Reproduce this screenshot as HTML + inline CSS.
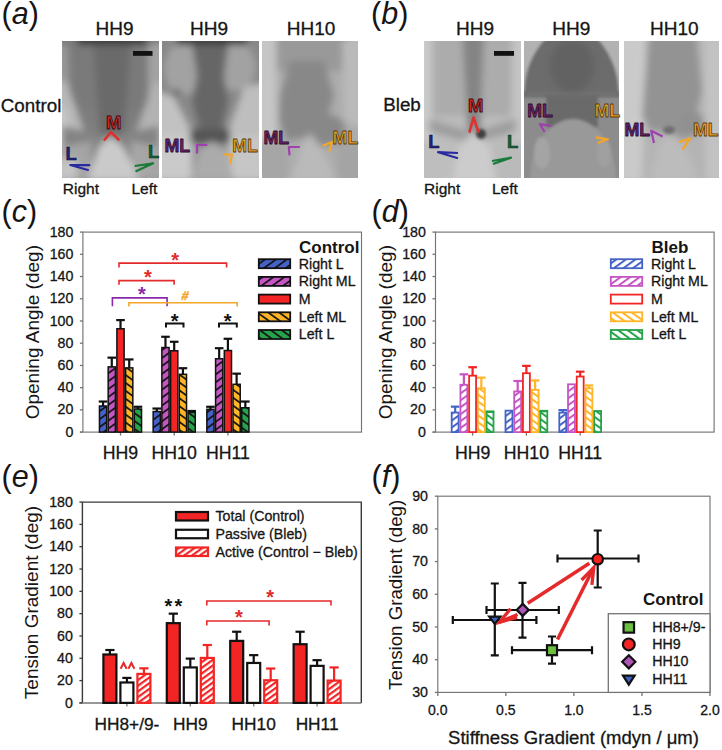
<!DOCTYPE html>
<html><head><meta charset="utf-8"><style>
html,body{margin:0;padding:0;background:#fff;overflow:hidden;}
svg{display:block;}
text{font-family:"Liberation Sans", sans-serif;}
</style></head><body>
<svg width="722" height="750" viewBox="0 0 722 750">
<defs><pattern id="pBlue" patternUnits="userSpaceOnUse" width="6.4" height="6.4" patternTransform="rotate(54)"><rect width="6.4" height="6.4" fill="#4563c6"/><rect x="0" y="0" width="1.7" height="6.4" fill="#111"/></pattern><pattern id="pMag" patternUnits="userSpaceOnUse" width="6.4" height="6.4" patternTransform="rotate(54)"><rect width="6.4" height="6.4" fill="#c655c4"/><rect x="0" y="0" width="1.7" height="6.4" fill="#111"/></pattern><pattern id="pOrg" patternUnits="userSpaceOnUse" width="6.4" height="6.4" patternTransform="rotate(-54)"><rect width="6.4" height="6.4" fill="#ffb526"/><rect x="0" y="0" width="1.7" height="6.4" fill="#111"/></pattern><pattern id="pGrn" patternUnits="userSpaceOnUse" width="6.4" height="6.4" patternTransform="rotate(-54)"><rect width="6.4" height="6.4" fill="#25a24a"/><rect x="0" y="0" width="1.7" height="6.4" fill="#111"/></pattern><pattern id="dBlue" patternUnits="userSpaceOnUse" width="5.6" height="5.6" patternTransform="rotate(54)"><rect width="5.6" height="5.6" fill="#fff"/><rect x="0" y="0" width="2.0" height="5.6" fill="#4563c6"/></pattern><pattern id="dMag" patternUnits="userSpaceOnUse" width="5.6" height="5.6" patternTransform="rotate(54)"><rect width="5.6" height="5.6" fill="#fff"/><rect x="0" y="0" width="2.0" height="5.6" fill="#c655c4"/></pattern><pattern id="dOrg" patternUnits="userSpaceOnUse" width="5.6" height="5.6" patternTransform="rotate(-54)"><rect width="5.6" height="5.6" fill="#fff"/><rect x="0" y="0" width="2.0" height="5.6" fill="#ffb526"/></pattern><pattern id="dGrn" patternUnits="userSpaceOnUse" width="5.6" height="5.6" patternTransform="rotate(-54)"><rect width="5.6" height="5.6" fill="#fff"/><rect x="0" y="0" width="2.0" height="5.6" fill="#25a24a"/></pattern><pattern id="eRed" patternUnits="userSpaceOnUse" width="4.6" height="4.6" patternTransform="rotate(54)"><rect width="4.6" height="4.6" fill="#fff"/><rect x="0" y="0" width="2.2" height="4.6" fill="#f22424"/></pattern></defs>
<rect width="722" height="750" fill="#fff"/>
<defs>
<filter id="bl4" x="-30%" y="-30%" width="160%" height="160%"><feGaussianBlur stdDeviation="3.5"/></filter>
<filter id="bl2" x="-30%" y="-30%" width="160%" height="160%"><feGaussianBlur stdDeviation="1.8"/></filter>
<clipPath id="c97"><rect x="0" y="0" width="97" height="137"/></clipPath>
<clipPath id="c96"><rect x="0" y="0" width="96" height="137"/></clipPath>
<clipPath id="c95"><rect x="0" y="0" width="95" height="137"/></clipPath>
</defs>
<!-- a1 -->
<g transform="translate(62,41)" clip-path="url(#c97)">
<rect width="97" height="137" fill="#7e7e7e"/>
<g filter="url(#bl4)">
<rect x="-10" y="-10" width="117" height="80" fill="#7a7a7a"/>
<path d="M-10,0 L6,5 L8,60 L-10,70Z" fill="#989898"/>
<path d="M107,0 L86,5 L86,60 L107,70Z" fill="#a2a2a2"/>
<path d="M30,-10 L70,-10 L62,95 L48,98 L38,95Z" fill="#6a6a6a"/>
<rect x="15" y="-10" width="70" height="14" fill="#3a3a3a"/>
<path d="M-10,40 L4,40 L26,100 L15,137 L-10,137Z" fill="#b8b8b8"/>
<path d="M107,40 L92,42 L70,100 L80,137 L107,137Z" fill="#b2b2b2"/>
<path d="M-10,60 L6,70 L6,137 L-10,137Z" fill="#c6c6c6"/>
<path d="M0,85 L48,95 L97,85 L97,108 L48,100 L0,108Z" fill="#848484"/>
<path d="M-10,108 L30,100 L30,140 L-10,140Z" fill="#a4a4a4"/>
<path d="M107,108 L68,100 L70,140 L107,140Z" fill="#a6a6a6"/>
<path d="M26,140 L36,106 L48,96 L62,106 L78,140Z" fill="#cacaca"/>
<rect x="-5" y="118" width="20" height="22" fill="#c4c4c4"/>
</g>
</g>
<!-- a2 -->
<g transform="translate(162,41)" clip-path="url(#c97)">
<rect width="97" height="137" fill="#888"/>
<g filter="url(#bl4)">
<ellipse cx="22" cy="28" rx="20" ry="26" fill="#a2a2a2"/>
<ellipse cx="74" cy="26" rx="20" ry="24" fill="#a2a2a2"/>
<path d="M28,-10 L68,-10 L62,35 L66,60 L58,95 L40,95 L30,60 L35,35Z" fill="#666"/>
<rect x="15" y="-10" width="70" height="14" fill="#3a3a3a"/>
<path d="M-10,48 L12,56 L32,95 L30,140 L-10,140Z" fill="#c2c2c2"/>
<path d="M107,40 L82,46 L64,95 L70,140 L107,140Z" fill="#bebebe"/>
<rect x="-10" y="95" width="38" height="45" fill="#cacaca"/>
<rect x="70" y="95" width="37" height="45" fill="#c6c6c6"/>
<rect x="28" y="88" width="40" height="14" fill="#555"/>
<path d="M30,140 L36,110 L50,100 L65,110 L72,140Z" fill="#ababab"/>
<circle cx="15" cy="52" r="4" fill="#666"/>
</g>
</g>
<!-- a3 -->
<g transform="translate(262,41)" clip-path="url(#c96)">
<rect width="96" height="137" fill="#acacac"/>
<g filter="url(#bl4)">
<rect x="8" y="-10" width="80" height="40" fill="#999"/>
<path d="M-10,-10 L14,-5 L15,95 L-10,100Z" fill="#c6c6c6"/>
<path d="M106,-10 L80,0 L82,80 L106,90Z" fill="#bababa"/>
<path d="M28,20 L62,20 L72,55 L66,72 L82,80 L82,100 L60,106 L48,95 L25,100 L17,80 L18,55Z" fill="#888888"/>
<path d="M28,140 L40,105 L48,92 L60,108 L75,140Z" fill="#bababa"/>
<rect x="-10" y="102" width="35" height="40" fill="#a6a6a6"/>
<rect x="75" y="102" width="31" height="40" fill="#a4a4a4"/>
</g>
</g>
<!-- b1 -->
<g transform="translate(424,41)" clip-path="url(#c97)">
<rect width="97" height="137" fill="#bcbcbc"/>
<g filter="url(#bl4)">
<rect x="8" y="-10" width="80" height="85" fill="#acacac"/>
<path d="M-10,-10 L8,-10 L8,140 L-10,140Z" fill="#cacaca"/>
<path d="M107,-10 L88,-10 L88,140 L107,140Z" fill="#c4c4c4"/>
<path d="M38,-10 L60,-10 L56,95 L44,95Z" fill="#848484"/>
<path d="M5,78 L48,92 L92,78 L92,90 L48,102 L5,90Z" fill="#9c9c9c"/>
<path d="M28,140 L35,105 L50,90 L65,105 L72,140Z" fill="#cccccc"/>
<rect x="-10" y="100" width="38" height="40" fill="#bebebe"/>
<rect x="72" y="100" width="35" height="40" fill="#bababa"/>
</g>
<g filter="url(#bl2)"><ellipse cx="57" cy="93" rx="5" ry="5" fill="#404040"/></g>
</g>
<!-- b2 -->
<g transform="translate(524,41)" clip-path="url(#c95)">
<rect width="95" height="137" fill="#888"/>
<g filter="url(#bl2)">
<rect x="-5" y="-5" width="105" height="60" fill="#b2b2b2"/>
<path d="M0,56 C0,30 8,12 22,-3 L73,-3 C86,12 95,30 95,56Z" fill="#6c6c6c"/>
<rect x="-5" y="50" width="105" height="8" fill="#707070"/>
</g>
<g filter="url(#bl4)"><ellipse cx="48" cy="25" rx="22" ry="26" fill="#626262"/></g>
<g filter="url(#bl2)">
<rect x="-5" y="57" width="105" height="90" fill="#8c8c8c"/>
<rect x="22" y="54" width="52" height="32" fill="#6a6a6a"/>
<ellipse cx="49" cy="140" rx="43" ry="62" fill="#999"/>
<ellipse cx="18" cy="112" rx="8" ry="16" fill="#a4a4a4"/>
<ellipse cx="80" cy="112" rx="7" ry="14" fill="#a0a0a0"/>
</g>
</g>
<!-- b3 -->
<g transform="translate(624,41)" clip-path="url(#c95)">
<rect width="95" height="137" fill="#b4b4b4"/>
<g filter="url(#bl4)">
<path d="M-10,-10 L22,-10 L18,140 L-10,140Z" fill="#cacaca"/>
<path d="M105,-10 L80,-10 L82,140 L105,140Z" fill="#c2c2c2"/>
<path d="M25,-5 L72,-5 L78,50 L72,72 L80,90 L60,98 L45,92 L25,88 L18,75 L20,50Z" fill="#939393"/>
<path d="M25,140 L35,105 L45,92 L60,105 L75,140Z" fill="#bcbcbc"/>
<ellipse cx="68" cy="82" rx="12" ry="12" fill="#909090"/>
</g>
<g filter="url(#bl2)"><ellipse cx="45" cy="89" rx="6" ry="4" fill="#707070"/></g>
</g>

<g font-family="Liberation Sans, sans-serif" font-weight="bold" stroke-linejoin="round">
<!-- a1 -->
<text x="106" y="129.1" font-size="18.5" fill="#e02a2a" stroke="#3a0a0a" stroke-width="0.9">M</text>
<polyline points="103.9,140.5 111,132.2 119.4,140.2" fill="none" stroke="#e03030" stroke-width="2.6"/>
<text x="65.6" y="159.7" font-size="18.4" fill="#24247a" stroke="#101040" stroke-width="0.6">L</text>
<polyline points="90.2,165.2 70.3,165 88.8,170.2" fill="none" stroke="#2a2aa0" stroke-width="2.2"/>
<text x="148.1" y="158.3" font-size="18.4" fill="#16603a" stroke="#0a3018" stroke-width="0.6">L</text>
<polyline points="134.7,166 153.2,163.3 135.5,171.6" fill="none" stroke="#1a7a3a" stroke-width="2.2"/>
<!-- a2 -->
<text x="164.4" y="151.6" font-size="17.8" fill="#6a246a" stroke="#2a0a2a" stroke-width="0.8">ML</text>
<polyline points="207.3,145 197,145 197,153.5" fill="none" stroke="#a040b0" stroke-width="2.2"/>
<text x="232.2" y="151.6" font-size="17.8" fill="#f0a428" stroke="#5a3a08" stroke-width="0.8">ML</text>
<polyline points="223.4,154.5 232,154.5 230,164" fill="none" stroke="#f4a628" stroke-width="2.2"/>
<!-- a3 -->
<text x="263.4" y="143.5" font-size="17.8" fill="#6a246a" stroke="#2a0a2a" stroke-width="0.8">ML</text>
<polyline points="299.8,147 288.8,147 289.5,155.4" fill="none" stroke="#a040b0" stroke-width="2.2"/>
<text x="332.6" y="143.5" font-size="17.8" fill="#f0a428" stroke="#5a3a08" stroke-width="0.8">ML</text>
<polyline points="322.5,146 332,142 329.1,151.6" fill="none" stroke="#f4a628" stroke-width="2.2"/>
<!-- b1 -->
<rect x="133" y="51" width="19.5" height="4.8" fill="#111"/>
<rect x="494" y="51" width="20" height="4.8" fill="#111"/>
<text x="468" y="111.9" font-size="18.5" fill="#e02a2a" stroke="#3a0a0a" stroke-width="0.9">M</text>
<polyline points="469.3,132.7 473.5,117.5 478.8,132.7" fill="none" stroke="#e03030" stroke-width="2.6"/>
<text x="428.3" y="148.2" font-size="18.4" fill="#24247a" stroke="#101040" stroke-width="0.6">L</text>
<polyline points="458,153 438.1,152.2 458,158.3" fill="none" stroke="#2a2aa0" stroke-width="2.2"/>
<text x="506.9" y="148.2" font-size="18.4" fill="#16603a" stroke="#0a3018" stroke-width="0.6">L</text>
<polyline points="492,161 511,157.7 493,164" fill="none" stroke="#1a7a3a" stroke-width="2.2"/>
<!-- b2 -->
<text x="527.2" y="117.2" font-size="17.8" fill="#6a246a" stroke="#2a0a2a" stroke-width="0.8">ML</text>
<polyline points="551.2,126 539.9,124.2 544.6,131.8" fill="none" stroke="#a040b0" stroke-width="2.2"/>
<text x="594.5" y="117.2" font-size="17.8" fill="#f0a428" stroke="#5a3a08" stroke-width="0.8">ML</text>
<polyline points="595.8,137.4 608,139.3 597.7,143" fill="none" stroke="#f4a628" stroke-width="2.2"/>
<!-- b3 -->
<text x="624.4" y="136.1" font-size="17.8" fill="#6a246a" stroke="#2a0a2a" stroke-width="0.8">ML</text>
<polyline points="662.6,136.5 651.2,130.8 654,143" fill="none" stroke="#a040b0" stroke-width="2.2"/>
<text x="692.9" y="136.1" font-size="17.8" fill="#f0a428" stroke="#5a3a08" stroke-width="0.8">ML</text>
<polyline points="678.7,142.2 690,138.4 682.5,149.7" fill="none" stroke="#f4a628" stroke-width="2.2"/>
</g>

<text x="1.5" y="24" font-size="30.5" fill="#151515">(<tspan font-style="italic">a</tspan>)</text>
<text x="371" y="24" font-size="30.5" fill="#151515">(<tspan font-style="italic">b</tspan>)</text>
<text x="1.5" y="221.5" font-size="30.5" fill="#151515">(<tspan font-style="italic">c</tspan>)</text>
<text x="371.5" y="221.5" font-size="30.5" fill="#151515">(<tspan font-style="italic">d</tspan>)</text>
<text x="1.5" y="487" font-size="30.5" fill="#151515">(<tspan font-style="italic">e</tspan>)</text>
<text x="371.5" y="487" font-size="30.5" fill="#151515">(<tspan font-style="italic">f</tspan>)</text>
<rect x="82.90" y="232.10" width="278.60" height="200.00" fill="none" stroke="#747474" stroke-width="1.15" />
<line x1="79.90" y1="432.10" x2="82.90" y2="432.10" stroke="#747474" stroke-width="1.15" />
<line x1="79.90" y1="432.10" x2="82.90" y2="432.10" stroke="#747474" stroke-width="1.3" />
<text x="73.30" y="436.70" font-size="14.2" text-anchor="end" font-weight="normal" font-style="normal" fill="#151515" stroke="#151515" stroke-width="0.3" >0</text>
<line x1="79.90" y1="409.88" x2="82.90" y2="409.88" stroke="#747474" stroke-width="1.3" />
<text x="73.30" y="414.48" font-size="14.2" text-anchor="end" font-weight="normal" font-style="normal" fill="#151515" stroke="#151515" stroke-width="0.3" >20</text>
<line x1="79.90" y1="387.66" x2="82.90" y2="387.66" stroke="#747474" stroke-width="1.3" />
<text x="73.30" y="392.26" font-size="14.2" text-anchor="end" font-weight="normal" font-style="normal" fill="#151515" stroke="#151515" stroke-width="0.3" >40</text>
<line x1="79.90" y1="365.43" x2="82.90" y2="365.43" stroke="#747474" stroke-width="1.3" />
<text x="73.30" y="370.03" font-size="14.2" text-anchor="end" font-weight="normal" font-style="normal" fill="#151515" stroke="#151515" stroke-width="0.3" >60</text>
<line x1="79.90" y1="343.21" x2="82.90" y2="343.21" stroke="#747474" stroke-width="1.3" />
<text x="73.30" y="347.81" font-size="14.2" text-anchor="end" font-weight="normal" font-style="normal" fill="#151515" stroke="#151515" stroke-width="0.3" >80</text>
<line x1="79.90" y1="320.99" x2="82.90" y2="320.99" stroke="#747474" stroke-width="1.3" />
<text x="73.30" y="325.59" font-size="14.2" text-anchor="end" font-weight="normal" font-style="normal" fill="#151515" stroke="#151515" stroke-width="0.3" >100</text>
<line x1="79.90" y1="298.77" x2="82.90" y2="298.77" stroke="#747474" stroke-width="1.3" />
<text x="73.30" y="303.37" font-size="14.2" text-anchor="end" font-weight="normal" font-style="normal" fill="#151515" stroke="#151515" stroke-width="0.3" >120</text>
<line x1="79.90" y1="276.54" x2="82.90" y2="276.54" stroke="#747474" stroke-width="1.3" />
<text x="73.30" y="281.14" font-size="14.2" text-anchor="end" font-weight="normal" font-style="normal" fill="#151515" stroke="#151515" stroke-width="0.3" >140</text>
<line x1="79.90" y1="254.32" x2="82.90" y2="254.32" stroke="#747474" stroke-width="1.3" />
<text x="73.30" y="258.92" font-size="14.2" text-anchor="end" font-weight="normal" font-style="normal" fill="#151515" stroke="#151515" stroke-width="0.3" >160</text>
<line x1="79.90" y1="232.10" x2="82.90" y2="232.10" stroke="#747474" stroke-width="1.3" />
<text x="73.30" y="236.70" font-size="14.2" text-anchor="end" font-weight="normal" font-style="normal" fill="#151515" stroke="#151515" stroke-width="0.3" >180</text>
<line x1="120.50" y1="432.10" x2="120.50" y2="435.60" stroke="#747474" stroke-width="1.3" />
<text x="120.50" y="459.00" font-size="17.7" text-anchor="middle" font-weight="normal" font-style="normal" fill="#151515" stroke="#151515" stroke-width="0.3" >HH9</text>
<line x1="174.20" y1="432.10" x2="174.20" y2="435.60" stroke="#747474" stroke-width="1.3" />
<text x="174.20" y="459.00" font-size="17.7" text-anchor="middle" font-weight="normal" font-style="normal" fill="#151515" stroke="#151515" stroke-width="0.3" >HH10</text>
<line x1="227.90" y1="432.10" x2="227.90" y2="435.60" stroke="#747474" stroke-width="1.3" />
<text x="227.90" y="459.00" font-size="17.7" text-anchor="middle" font-weight="normal" font-style="normal" fill="#151515" stroke="#151515" stroke-width="0.3" >HH11</text>
<text transform="translate(38.9,332.2) rotate(-90)" font-size="19" text-anchor="middle" fill="#151515">Opening Angle (deg)</text>
<line x1="103.06" y1="405.99" x2="103.06" y2="401.54" stroke="#111" stroke-width="2.2" />
<line x1="98.76" y1="401.54" x2="107.36" y2="401.54" stroke="#111" stroke-width="2.2" />
<rect x="99.45" y="405.99" width="7.22" height="26.11" fill="url(#pBlue)" stroke="#111" stroke-width="1.5" />
<line x1="111.78" y1="366.88" x2="111.78" y2="357.66" stroke="#111" stroke-width="2.2" />
<line x1="107.48" y1="357.66" x2="116.08" y2="357.66" stroke="#111" stroke-width="2.2" />
<rect x="108.17" y="366.88" width="7.22" height="65.22" fill="url(#pMag)" stroke="#111" stroke-width="1.5" />
<line x1="120.50" y1="328.77" x2="120.50" y2="320.10" stroke="#111" stroke-width="2.2" />
<line x1="116.20" y1="320.10" x2="124.80" y2="320.10" stroke="#111" stroke-width="2.2" />
<rect x="116.89" y="328.77" width="7.22" height="103.33" fill="#f22424" stroke="#111" stroke-width="1.5" />
<line x1="129.22" y1="367.88" x2="129.22" y2="359.43" stroke="#111" stroke-width="2.2" />
<line x1="124.92" y1="359.43" x2="133.52" y2="359.43" stroke="#111" stroke-width="2.2" />
<rect x="125.61" y="367.88" width="7.22" height="64.22" fill="url(#pOrg)" stroke="#111" stroke-width="1.5" />
<line x1="137.94" y1="408.99" x2="137.94" y2="406.77" stroke="#111" stroke-width="2.2" />
<line x1="133.64" y1="406.77" x2="142.24" y2="406.77" stroke="#111" stroke-width="2.2" />
<rect x="134.33" y="408.99" width="7.22" height="23.11" fill="url(#pGrn)" stroke="#111" stroke-width="1.5" />
<line x1="156.76" y1="411.54" x2="156.76" y2="408.54" stroke="#111" stroke-width="2.2" />
<line x1="152.46" y1="408.54" x2="161.06" y2="408.54" stroke="#111" stroke-width="2.2" />
<rect x="153.15" y="411.54" width="7.22" height="20.56" fill="url(#pBlue)" stroke="#111" stroke-width="1.5" />
<line x1="165.48" y1="347.54" x2="165.48" y2="336.77" stroke="#111" stroke-width="2.2" />
<line x1="161.18" y1="336.77" x2="169.78" y2="336.77" stroke="#111" stroke-width="2.2" />
<rect x="161.87" y="347.54" width="7.22" height="84.56" fill="url(#pMag)" stroke="#111" stroke-width="1.5" />
<line x1="174.20" y1="350.77" x2="174.20" y2="341.77" stroke="#111" stroke-width="2.2" />
<line x1="169.90" y1="341.77" x2="178.50" y2="341.77" stroke="#111" stroke-width="2.2" />
<rect x="170.59" y="350.77" width="7.22" height="81.33" fill="#f22424" stroke="#111" stroke-width="1.5" />
<line x1="182.92" y1="374.32" x2="182.92" y2="368.21" stroke="#111" stroke-width="2.2" />
<line x1="178.62" y1="368.21" x2="187.22" y2="368.21" stroke="#111" stroke-width="2.2" />
<rect x="179.31" y="374.32" width="7.22" height="57.78" fill="url(#pOrg)" stroke="#111" stroke-width="1.5" />
<line x1="191.64" y1="412.32" x2="191.64" y2="410.99" stroke="#111" stroke-width="2.2" />
<line x1="187.34" y1="410.99" x2="195.94" y2="410.99" stroke="#111" stroke-width="2.2" />
<rect x="188.03" y="412.32" width="7.22" height="19.78" fill="url(#pGrn)" stroke="#111" stroke-width="1.5" />
<line x1="210.46" y1="409.32" x2="210.46" y2="406.77" stroke="#111" stroke-width="2.2" />
<line x1="206.16" y1="406.77" x2="214.76" y2="406.77" stroke="#111" stroke-width="2.2" />
<rect x="206.85" y="409.32" width="7.22" height="22.78" fill="url(#pBlue)" stroke="#111" stroke-width="1.5" />
<line x1="219.18" y1="358.77" x2="219.18" y2="348.21" stroke="#111" stroke-width="2.2" />
<line x1="214.88" y1="348.21" x2="223.48" y2="348.21" stroke="#111" stroke-width="2.2" />
<rect x="215.57" y="358.77" width="7.22" height="73.33" fill="url(#pMag)" stroke="#111" stroke-width="1.5" />
<line x1="227.90" y1="350.54" x2="227.90" y2="338.77" stroke="#111" stroke-width="2.2" />
<line x1="223.60" y1="338.77" x2="232.20" y2="338.77" stroke="#111" stroke-width="2.2" />
<rect x="224.29" y="350.54" width="7.22" height="81.56" fill="#f22424" stroke="#111" stroke-width="1.5" />
<line x1="236.62" y1="384.32" x2="236.62" y2="373.66" stroke="#111" stroke-width="2.2" />
<line x1="232.32" y1="373.66" x2="240.92" y2="373.66" stroke="#111" stroke-width="2.2" />
<rect x="233.01" y="384.32" width="7.22" height="47.78" fill="url(#pOrg)" stroke="#111" stroke-width="1.5" />
<line x1="245.34" y1="407.77" x2="245.34" y2="401.54" stroke="#111" stroke-width="2.2" />
<line x1="241.04" y1="401.54" x2="249.64" y2="401.54" stroke="#111" stroke-width="2.2" />
<rect x="241.73" y="407.77" width="7.22" height="24.33" fill="url(#pGrn)" stroke="#111" stroke-width="1.5" />
<rect x="435.50" y="232.10" width="278.60" height="200.00" fill="none" stroke="#747474" stroke-width="1.15" />
<line x1="432.50" y1="432.10" x2="435.50" y2="432.10" stroke="#747474" stroke-width="1.15" />
<line x1="432.50" y1="432.10" x2="435.50" y2="432.10" stroke="#747474" stroke-width="1.3" />
<text x="425.90" y="436.70" font-size="14.2" text-anchor="end" font-weight="normal" font-style="normal" fill="#151515" stroke="#151515" stroke-width="0.3" >0</text>
<line x1="432.50" y1="409.88" x2="435.50" y2="409.88" stroke="#747474" stroke-width="1.3" />
<text x="425.90" y="414.48" font-size="14.2" text-anchor="end" font-weight="normal" font-style="normal" fill="#151515" stroke="#151515" stroke-width="0.3" >20</text>
<line x1="432.50" y1="387.66" x2="435.50" y2="387.66" stroke="#747474" stroke-width="1.3" />
<text x="425.90" y="392.26" font-size="14.2" text-anchor="end" font-weight="normal" font-style="normal" fill="#151515" stroke="#151515" stroke-width="0.3" >40</text>
<line x1="432.50" y1="365.43" x2="435.50" y2="365.43" stroke="#747474" stroke-width="1.3" />
<text x="425.90" y="370.03" font-size="14.2" text-anchor="end" font-weight="normal" font-style="normal" fill="#151515" stroke="#151515" stroke-width="0.3" >60</text>
<line x1="432.50" y1="343.21" x2="435.50" y2="343.21" stroke="#747474" stroke-width="1.3" />
<text x="425.90" y="347.81" font-size="14.2" text-anchor="end" font-weight="normal" font-style="normal" fill="#151515" stroke="#151515" stroke-width="0.3" >80</text>
<line x1="432.50" y1="320.99" x2="435.50" y2="320.99" stroke="#747474" stroke-width="1.3" />
<text x="425.90" y="325.59" font-size="14.2" text-anchor="end" font-weight="normal" font-style="normal" fill="#151515" stroke="#151515" stroke-width="0.3" >100</text>
<line x1="432.50" y1="298.77" x2="435.50" y2="298.77" stroke="#747474" stroke-width="1.3" />
<text x="425.90" y="303.37" font-size="14.2" text-anchor="end" font-weight="normal" font-style="normal" fill="#151515" stroke="#151515" stroke-width="0.3" >120</text>
<line x1="432.50" y1="276.54" x2="435.50" y2="276.54" stroke="#747474" stroke-width="1.3" />
<text x="425.90" y="281.14" font-size="14.2" text-anchor="end" font-weight="normal" font-style="normal" fill="#151515" stroke="#151515" stroke-width="0.3" >140</text>
<line x1="432.50" y1="254.32" x2="435.50" y2="254.32" stroke="#747474" stroke-width="1.3" />
<text x="425.90" y="258.92" font-size="14.2" text-anchor="end" font-weight="normal" font-style="normal" fill="#151515" stroke="#151515" stroke-width="0.3" >160</text>
<line x1="432.50" y1="232.10" x2="435.50" y2="232.10" stroke="#747474" stroke-width="1.3" />
<text x="425.90" y="236.70" font-size="14.2" text-anchor="end" font-weight="normal" font-style="normal" fill="#151515" stroke="#151515" stroke-width="0.3" >180</text>
<line x1="472.60" y1="432.10" x2="472.60" y2="435.60" stroke="#747474" stroke-width="1.3" />
<text x="472.60" y="459.00" font-size="17.7" text-anchor="middle" font-weight="normal" font-style="normal" fill="#151515" stroke="#151515" stroke-width="0.3" >HH9</text>
<line x1="526.40" y1="432.10" x2="526.40" y2="435.60" stroke="#747474" stroke-width="1.3" />
<text x="526.40" y="459.00" font-size="17.7" text-anchor="middle" font-weight="normal" font-style="normal" fill="#151515" stroke="#151515" stroke-width="0.3" >HH10</text>
<line x1="580.20" y1="432.10" x2="580.20" y2="435.60" stroke="#747474" stroke-width="1.3" />
<text x="580.20" y="459.00" font-size="17.7" text-anchor="middle" font-weight="normal" font-style="normal" fill="#151515" stroke="#151515" stroke-width="0.3" >HH11</text>
<text transform="translate(391.5,332.2) rotate(-90)" font-size="19" text-anchor="middle" fill="#151515">Opening Angle (deg)</text>
<line x1="455.16" y1="412.54" x2="455.16" y2="406.66" stroke="#4563c6" stroke-width="2.2" />
<line x1="450.86" y1="406.66" x2="459.46" y2="406.66" stroke="#4563c6" stroke-width="2.2" />
<rect x="451.70" y="412.54" width="6.92" height="19.56" fill="url(#dBlue)" stroke="#4563c6" stroke-width="1.8" />
<line x1="463.88" y1="384.77" x2="463.88" y2="374.32" stroke="#c655c4" stroke-width="2.2" />
<line x1="459.58" y1="374.32" x2="468.18" y2="374.32" stroke="#c655c4" stroke-width="2.2" />
<rect x="460.42" y="384.77" width="6.92" height="47.33" fill="url(#dMag)" stroke="#c655c4" stroke-width="1.8" />
<line x1="472.60" y1="375.66" x2="472.60" y2="367.21" stroke="#f22424" stroke-width="2.2" />
<line x1="468.30" y1="367.21" x2="476.90" y2="367.21" stroke="#f22424" stroke-width="2.2" />
<rect x="469.14" y="375.66" width="6.92" height="56.44" fill="#fff" stroke="#f22424" stroke-width="1.8" />
<line x1="481.32" y1="388.32" x2="481.32" y2="377.66" stroke="#ffb526" stroke-width="2.2" />
<line x1="477.02" y1="377.66" x2="485.62" y2="377.66" stroke="#ffb526" stroke-width="2.2" />
<rect x="477.86" y="388.32" width="6.92" height="43.78" fill="url(#dOrg)" stroke="#ffb526" stroke-width="1.8" />
<line x1="490.04" y1="412.10" x2="490.04" y2="411.54" stroke="#25a24a" stroke-width="2.2" />
<line x1="485.74" y1="411.54" x2="494.34" y2="411.54" stroke="#25a24a" stroke-width="2.2" />
<rect x="486.58" y="412.10" width="6.92" height="20.00" fill="url(#dGrn)" stroke="#25a24a" stroke-width="1.8" />
<rect x="505.50" y="410.66" width="6.92" height="21.44" fill="url(#dBlue)" stroke="#4563c6" stroke-width="1.8" />
<line x1="517.68" y1="391.43" x2="517.68" y2="380.99" stroke="#c655c4" stroke-width="2.2" />
<line x1="513.38" y1="380.99" x2="521.98" y2="380.99" stroke="#c655c4" stroke-width="2.2" />
<rect x="514.22" y="391.43" width="6.92" height="40.67" fill="url(#dMag)" stroke="#c655c4" stroke-width="1.8" />
<line x1="526.40" y1="373.21" x2="526.40" y2="365.88" stroke="#f22424" stroke-width="2.2" />
<line x1="522.10" y1="365.88" x2="530.70" y2="365.88" stroke="#f22424" stroke-width="2.2" />
<rect x="522.94" y="373.21" width="6.92" height="58.89" fill="#fff" stroke="#f22424" stroke-width="1.8" />
<line x1="535.12" y1="389.88" x2="535.12" y2="380.43" stroke="#ffb526" stroke-width="2.2" />
<line x1="530.82" y1="380.43" x2="539.42" y2="380.43" stroke="#ffb526" stroke-width="2.2" />
<rect x="531.66" y="389.88" width="6.92" height="42.22" fill="url(#dOrg)" stroke="#ffb526" stroke-width="1.8" />
<line x1="543.84" y1="411.43" x2="543.84" y2="410.99" stroke="#25a24a" stroke-width="2.2" />
<line x1="539.54" y1="410.99" x2="548.14" y2="410.99" stroke="#25a24a" stroke-width="2.2" />
<rect x="540.38" y="411.43" width="6.92" height="20.67" fill="url(#dGrn)" stroke="#25a24a" stroke-width="1.8" />
<line x1="562.76" y1="412.66" x2="562.76" y2="410.10" stroke="#4563c6" stroke-width="2.2" />
<line x1="558.46" y1="410.10" x2="567.06" y2="410.10" stroke="#4563c6" stroke-width="2.2" />
<rect x="559.30" y="412.66" width="6.92" height="19.44" fill="url(#dBlue)" stroke="#4563c6" stroke-width="1.8" />
<rect x="568.02" y="384.32" width="6.92" height="47.78" fill="url(#dMag)" stroke="#c655c4" stroke-width="1.8" />
<line x1="580.20" y1="376.54" x2="580.20" y2="371.66" stroke="#f22424" stroke-width="2.2" />
<line x1="575.90" y1="371.66" x2="584.50" y2="371.66" stroke="#f22424" stroke-width="2.2" />
<rect x="576.74" y="376.54" width="6.92" height="55.56" fill="#fff" stroke="#f22424" stroke-width="1.8" />
<line x1="588.92" y1="388.32" x2="588.92" y2="385.43" stroke="#ffb526" stroke-width="2.2" />
<line x1="584.62" y1="385.43" x2="593.22" y2="385.43" stroke="#ffb526" stroke-width="2.2" />
<rect x="585.46" y="388.32" width="6.92" height="43.78" fill="url(#dOrg)" stroke="#ffb526" stroke-width="1.8" />
<rect x="594.18" y="410.99" width="6.92" height="21.11" fill="url(#dGrn)" stroke="#25a24a" stroke-width="1.8" />
<polyline points="119,267.5 119,263.1 226.6,263.1 226.6,267.5" fill="none" stroke="#e42a2a" stroke-width="1.6"/>
<text x="175.10" y="267.10" font-size="20" text-anchor="middle" font-weight="bold" font-style="normal" fill="#e42a2a" >*</text>
<polyline points="119,284.8 119,280.6 174.1,280.6 174.1,284.8" fill="none" stroke="#e42a2a" stroke-width="1.6"/>
<text x="147.90" y="284.10" font-size="20" text-anchor="middle" font-weight="bold" font-style="normal" fill="#e42a2a" >*</text>
<polyline points="112.4,306.3 112.4,297.9 167.1,297.9 167.1,306.3" fill="none" stroke="#8a2aa8" stroke-width="1.6"/>
<text x="141.80" y="301.30" font-size="20" text-anchor="middle" font-weight="bold" font-style="normal" fill="#8a2aa8" >*</text>
<polyline points="128.9,306.5 128.9,302.7 237.2,302.7 237.2,306.5" fill="none" stroke="#f4a628" stroke-width="1.6"/>
<text x="0" y="0" font-size="12.4" text-anchor="middle" font-weight="bold" fill="#f4a628" stroke="#f4a628" stroke-width="0.5" transform="translate(184.5,300.4) skewX(-10)">#</text>
<polyline points="166,327.6 166,323.5 183.5,323.5 183.5,327.6" fill="none" stroke="#111" stroke-width="2"/>
<text x="174.70" y="328.10" font-size="20" text-anchor="middle" font-weight="bold" font-style="normal" fill="#111" >*</text>
<polyline points="219,327.6 219,323.5 236.8,323.5 236.8,327.6" fill="none" stroke="#111" stroke-width="2"/>
<text x="227.70" y="328.10" font-size="20" text-anchor="middle" font-weight="bold" font-style="normal" fill="#111" >*</text>
<rect x="258.80" y="259.20" width="31.40" height="9.00" fill="url(#pBlue)" stroke="#111" stroke-width="1.8" />
<text x="298.80" y="268.60" font-size="14.2" text-anchor="start" font-weight="normal" font-style="normal" fill="#151515" stroke="#151515" stroke-width="0.3" >Right L</text>
<rect x="258.80" y="276.90" width="31.40" height="9.00" fill="url(#pMag)" stroke="#111" stroke-width="1.8" />
<text x="298.80" y="286.30" font-size="14.2" text-anchor="start" font-weight="normal" font-style="normal" fill="#151515" stroke="#151515" stroke-width="0.3" >Right ML</text>
<rect x="258.80" y="294.60" width="31.40" height="9.00" fill="#f22424" stroke="#111" stroke-width="1.8" />
<text x="298.80" y="304.00" font-size="14.2" text-anchor="start" font-weight="normal" font-style="normal" fill="#151515" stroke="#151515" stroke-width="0.3" >M</text>
<rect x="258.80" y="312.30" width="31.40" height="9.00" fill="url(#pOrg)" stroke="#111" stroke-width="1.8" />
<text x="298.80" y="321.70" font-size="14.2" text-anchor="start" font-weight="normal" font-style="normal" fill="#151515" stroke="#151515" stroke-width="0.3" >Left ML</text>
<rect x="258.80" y="330.00" width="31.40" height="9.00" fill="url(#pGrn)" stroke="#111" stroke-width="1.8" />
<text x="298.80" y="339.40" font-size="14.2" text-anchor="start" font-weight="normal" font-style="normal" fill="#151515" stroke="#151515" stroke-width="0.3" >Left L</text>
<text x="299.00" y="252.80" font-size="17" text-anchor="start" font-weight="bold" font-style="normal" fill="#151515" >Control</text>
<rect x="610.80" y="259.20" width="31.40" height="9.00" fill="url(#dBlue)" stroke="#4563c6" stroke-width="1.8" />
<text x="651.00" y="268.60" font-size="14.2" text-anchor="start" font-weight="normal" font-style="normal" fill="#151515" stroke="#151515" stroke-width="0.3" >Right L</text>
<rect x="610.80" y="276.90" width="31.40" height="9.00" fill="url(#dMag)" stroke="#c655c4" stroke-width="1.8" />
<text x="651.00" y="286.30" font-size="14.2" text-anchor="start" font-weight="normal" font-style="normal" fill="#151515" stroke="#151515" stroke-width="0.3" >Right ML</text>
<rect x="610.80" y="294.60" width="31.40" height="9.00" fill="#fff" stroke="#f22424" stroke-width="1.8" />
<text x="651.00" y="304.00" font-size="14.2" text-anchor="start" font-weight="normal" font-style="normal" fill="#151515" stroke="#151515" stroke-width="0.3" >M</text>
<rect x="610.80" y="312.30" width="31.40" height="9.00" fill="url(#dOrg)" stroke="#ffb526" stroke-width="1.8" />
<text x="651.00" y="321.70" font-size="14.2" text-anchor="start" font-weight="normal" font-style="normal" fill="#151515" stroke="#151515" stroke-width="0.3" >Left ML</text>
<rect x="610.80" y="330.00" width="31.40" height="9.00" fill="url(#dGrn)" stroke="#25a24a" stroke-width="1.8" />
<text x="651.00" y="339.40" font-size="14.2" text-anchor="start" font-weight="normal" font-style="normal" fill="#151515" stroke="#151515" stroke-width="0.3" >Left L</text>
<text x="651.50" y="253.00" font-size="17" text-anchor="start" font-weight="bold" font-style="normal" fill="#151515" >Bleb</text>
<path d="M82.4,702.9 V502.1 H361.3 V702.9" fill="none" stroke="#3a3a3a" stroke-width="1.4"/>
<line x1="79.40" y1="702.90" x2="361.30" y2="702.90" stroke="#747474" stroke-width="1.5" />
<line x1="79.40" y1="702.90" x2="82.40" y2="702.90" stroke="#3a3a3a" stroke-width="1.3" />
<text x="72.80" y="707.50" font-size="14.2" text-anchor="end" font-weight="normal" font-style="normal" fill="#151515" stroke="#151515" stroke-width="0.3" >0</text>
<line x1="79.40" y1="680.59" x2="82.40" y2="680.59" stroke="#3a3a3a" stroke-width="1.3" />
<text x="72.80" y="685.19" font-size="14.2" text-anchor="end" font-weight="normal" font-style="normal" fill="#151515" stroke="#151515" stroke-width="0.3" >20</text>
<line x1="79.40" y1="658.28" x2="82.40" y2="658.28" stroke="#3a3a3a" stroke-width="1.3" />
<text x="72.80" y="662.88" font-size="14.2" text-anchor="end" font-weight="normal" font-style="normal" fill="#151515" stroke="#151515" stroke-width="0.3" >40</text>
<line x1="79.40" y1="635.97" x2="82.40" y2="635.97" stroke="#3a3a3a" stroke-width="1.3" />
<text x="72.80" y="640.57" font-size="14.2" text-anchor="end" font-weight="normal" font-style="normal" fill="#151515" stroke="#151515" stroke-width="0.3" >60</text>
<line x1="79.40" y1="613.66" x2="82.40" y2="613.66" stroke="#3a3a3a" stroke-width="1.3" />
<text x="72.80" y="618.26" font-size="14.2" text-anchor="end" font-weight="normal" font-style="normal" fill="#151515" stroke="#151515" stroke-width="0.3" >80</text>
<line x1="79.40" y1="591.34" x2="82.40" y2="591.34" stroke="#3a3a3a" stroke-width="1.3" />
<text x="72.80" y="595.94" font-size="14.2" text-anchor="end" font-weight="normal" font-style="normal" fill="#151515" stroke="#151515" stroke-width="0.3" >100</text>
<line x1="79.40" y1="569.03" x2="82.40" y2="569.03" stroke="#3a3a3a" stroke-width="1.3" />
<text x="72.80" y="573.63" font-size="14.2" text-anchor="end" font-weight="normal" font-style="normal" fill="#151515" stroke="#151515" stroke-width="0.3" >120</text>
<line x1="79.40" y1="546.72" x2="82.40" y2="546.72" stroke="#3a3a3a" stroke-width="1.3" />
<text x="72.80" y="551.32" font-size="14.2" text-anchor="end" font-weight="normal" font-style="normal" fill="#151515" stroke="#151515" stroke-width="0.3" >140</text>
<line x1="79.40" y1="524.41" x2="82.40" y2="524.41" stroke="#3a3a3a" stroke-width="1.3" />
<text x="72.80" y="529.01" font-size="14.2" text-anchor="end" font-weight="normal" font-style="normal" fill="#151515" stroke="#151515" stroke-width="0.3" >160</text>
<line x1="79.40" y1="502.10" x2="82.40" y2="502.10" stroke="#3a3a3a" stroke-width="1.3" />
<text x="72.80" y="506.70" font-size="14.2" text-anchor="end" font-weight="normal" font-style="normal" fill="#151515" stroke="#151515" stroke-width="0.3" >180</text>
<text transform="translate(38.3,602.5) rotate(-90)" font-size="19" text-anchor="middle" fill="#151515">Tension Gradient (deg)</text>
<line x1="126.90" y1="702.90" x2="126.90" y2="706.40" stroke="#747474" stroke-width="1.3" />
<text x="126.90" y="729.80" font-size="17.3" text-anchor="middle" font-weight="normal" font-style="normal" fill="#151515" stroke="#151515" stroke-width="0.3" >HH8+/9-</text>
<line x1="190.30" y1="702.90" x2="190.30" y2="706.40" stroke="#747474" stroke-width="1.3" />
<text x="190.30" y="729.80" font-size="17.3" text-anchor="middle" font-weight="normal" font-style="normal" fill="#151515" stroke="#151515" stroke-width="0.3" >HH9</text>
<line x1="253.70" y1="702.90" x2="253.70" y2="706.40" stroke="#747474" stroke-width="1.3" />
<text x="253.70" y="729.80" font-size="17.3" text-anchor="middle" font-weight="normal" font-style="normal" fill="#151515" stroke="#151515" stroke-width="0.3" >HH10</text>
<line x1="317.10" y1="702.90" x2="317.10" y2="706.40" stroke="#747474" stroke-width="1.3" />
<text x="317.10" y="729.80" font-size="17.3" text-anchor="middle" font-weight="normal" font-style="normal" fill="#151515" stroke="#151515" stroke-width="0.3" >HH11</text>
<line x1="109.90" y1="654.48" x2="109.90" y2="650.02" stroke="#111" stroke-width="2.2" />
<line x1="105.30" y1="650.02" x2="114.50" y2="650.02" stroke="#111" stroke-width="2.2" />
<rect x="103.40" y="654.48" width="13.00" height="48.42" fill="#f22424" stroke="#111" stroke-width="2.2" />
<line x1="126.90" y1="682.49" x2="126.90" y2="677.91" stroke="#111" stroke-width="2.2" />
<line x1="122.30" y1="677.91" x2="131.50" y2="677.91" stroke="#111" stroke-width="2.2" />
<rect x="120.40" y="682.49" width="13.00" height="20.41" fill="#fff" stroke="#111" stroke-width="2.2" />
<line x1="143.90" y1="673.90" x2="143.90" y2="668.32" stroke="#f22424" stroke-width="2.2" />
<line x1="139.30" y1="668.32" x2="148.50" y2="668.32" stroke="#f22424" stroke-width="2.2" />
<rect x="137.40" y="673.90" width="13.00" height="29.00" fill="url(#eRed)" stroke="#f22424" stroke-width="2.2" />
<line x1="173.30" y1="623.14" x2="173.30" y2="613.66" stroke="#111" stroke-width="2.2" />
<line x1="168.70" y1="613.66" x2="177.90" y2="613.66" stroke="#111" stroke-width="2.2" />
<rect x="166.80" y="623.14" width="13.00" height="79.76" fill="#f22424" stroke="#111" stroke-width="2.2" />
<line x1="190.30" y1="667.43" x2="190.30" y2="658.61" stroke="#111" stroke-width="2.2" />
<line x1="185.70" y1="658.61" x2="194.90" y2="658.61" stroke="#111" stroke-width="2.2" />
<rect x="183.80" y="667.43" width="13.00" height="35.47" fill="#fff" stroke="#111" stroke-width="2.2" />
<line x1="207.30" y1="657.94" x2="207.30" y2="645.00" stroke="#f22424" stroke-width="2.2" />
<line x1="202.70" y1="645.00" x2="211.90" y2="645.00" stroke="#f22424" stroke-width="2.2" />
<rect x="200.80" y="657.94" width="13.00" height="44.96" fill="url(#eRed)" stroke="#f22424" stroke-width="2.2" />
<line x1="236.70" y1="640.88" x2="236.70" y2="631.73" stroke="#111" stroke-width="2.2" />
<line x1="232.10" y1="631.73" x2="241.30" y2="631.73" stroke="#111" stroke-width="2.2" />
<rect x="230.20" y="640.88" width="13.00" height="62.02" fill="#f22424" stroke="#111" stroke-width="2.2" />
<line x1="253.70" y1="662.96" x2="253.70" y2="655.15" stroke="#111" stroke-width="2.2" />
<line x1="249.10" y1="655.15" x2="258.30" y2="655.15" stroke="#111" stroke-width="2.2" />
<rect x="247.20" y="662.96" width="13.00" height="39.94" fill="#fff" stroke="#111" stroke-width="2.2" />
<line x1="270.70" y1="680.25" x2="270.70" y2="668.54" stroke="#f22424" stroke-width="2.2" />
<line x1="266.10" y1="668.54" x2="275.30" y2="668.54" stroke="#f22424" stroke-width="2.2" />
<rect x="264.20" y="680.25" width="13.00" height="22.65" fill="url(#eRed)" stroke="#f22424" stroke-width="2.2" />
<line x1="300.10" y1="644.22" x2="300.10" y2="631.73" stroke="#111" stroke-width="2.2" />
<line x1="295.50" y1="631.73" x2="304.70" y2="631.73" stroke="#111" stroke-width="2.2" />
<rect x="293.60" y="644.22" width="13.00" height="58.68" fill="#f22424" stroke="#111" stroke-width="2.2" />
<line x1="317.10" y1="665.86" x2="317.10" y2="660.17" stroke="#111" stroke-width="2.2" />
<line x1="312.50" y1="660.17" x2="321.70" y2="660.17" stroke="#111" stroke-width="2.2" />
<rect x="310.60" y="665.86" width="13.00" height="37.04" fill="#fff" stroke="#111" stroke-width="2.2" />
<line x1="334.10" y1="680.59" x2="334.10" y2="667.43" stroke="#f22424" stroke-width="2.2" />
<line x1="329.50" y1="667.43" x2="338.70" y2="667.43" stroke="#f22424" stroke-width="2.2" />
<rect x="327.60" y="680.59" width="13.00" height="22.31" fill="url(#eRed)" stroke="#f22424" stroke-width="2.2" />
<rect x="176.00" y="512.00" width="32.00" height="8.50" fill="#f22424" stroke="#111" stroke-width="2.2" />
<text x="215.50" y="521.00" font-size="14.2" text-anchor="start" font-weight="normal" font-style="normal" fill="#151515" stroke="#151515" stroke-width="0.3" >Total (Control)</text>
<rect x="176.00" y="529.75" width="32.00" height="8.50" fill="#fff" stroke="#111" stroke-width="2.2" />
<text x="215.50" y="538.75" font-size="14.2" text-anchor="start" font-weight="normal" font-style="normal" fill="#151515" stroke="#151515" stroke-width="0.3" >Passive (Bleb)</text>
<rect x="176.00" y="547.50" width="32.00" height="8.50" fill="url(#eRed)" stroke="#f22424" stroke-width="2.2" />
<text x="215.50" y="556.50" font-size="14.2" text-anchor="start" font-weight="normal" font-style="normal" fill="#151515" stroke="#151515" stroke-width="0.3" >Active (Control &#8722; Bleb)</text>
<polyline points="206.8,605.5 206.8,601 331,601 331,605.5" fill="none" stroke="#e42a2a" stroke-width="1.6"/>
<text x="270.20" y="604.30" font-size="20" text-anchor="middle" font-weight="bold" font-style="normal" fill="#e42a2a" >*</text>
<polyline points="206.8,625.5 206.8,621 269.1,621 269.1,625.5" fill="none" stroke="#e42a2a" stroke-width="1.6"/>
<text x="239.00" y="624.00" font-size="20" text-anchor="middle" font-weight="bold" font-style="normal" fill="#e42a2a" >*</text>
<text x="168.30" y="612.80" font-size="20" text-anchor="middle" font-weight="bold" font-style="normal" fill="#111" >*</text>
<text x="178.30" y="612.80" font-size="20" text-anchor="middle" font-weight="bold" font-style="normal" fill="#111" >*</text>
<path d="M120.6,668.8 L123.6,663 L126.6,668.8 M128.4,668.8 L131.4,663 L134.4,668.8" stroke="#e42a2a" stroke-width="2" fill="none" stroke-linejoin="miter"/>
<rect x="437.80" y="496.20" width="272.20" height="196.20" fill="none" stroke="#747474" stroke-width="1.15" />
<line x1="434.80" y1="692.40" x2="437.80" y2="692.40" stroke="#747474" stroke-width="1.3" />
<text x="428.00" y="697.00" font-size="14.2" text-anchor="end" font-weight="normal" font-style="normal" fill="#151515" stroke="#151515" stroke-width="0.3" >30</text>
<line x1="434.80" y1="659.70" x2="437.80" y2="659.70" stroke="#747474" stroke-width="1.3" />
<text x="428.00" y="664.30" font-size="14.2" text-anchor="end" font-weight="normal" font-style="normal" fill="#151515" stroke="#151515" stroke-width="0.3" >40</text>
<line x1="434.80" y1="627.00" x2="437.80" y2="627.00" stroke="#747474" stroke-width="1.3" />
<text x="428.00" y="631.60" font-size="14.2" text-anchor="end" font-weight="normal" font-style="normal" fill="#151515" stroke="#151515" stroke-width="0.3" >50</text>
<line x1="434.80" y1="594.30" x2="437.80" y2="594.30" stroke="#747474" stroke-width="1.3" />
<text x="428.00" y="598.90" font-size="14.2" text-anchor="end" font-weight="normal" font-style="normal" fill="#151515" stroke="#151515" stroke-width="0.3" >60</text>
<line x1="434.80" y1="561.60" x2="437.80" y2="561.60" stroke="#747474" stroke-width="1.3" />
<text x="428.00" y="566.20" font-size="14.2" text-anchor="end" font-weight="normal" font-style="normal" fill="#151515" stroke="#151515" stroke-width="0.3" >70</text>
<line x1="434.80" y1="528.90" x2="437.80" y2="528.90" stroke="#747474" stroke-width="1.3" />
<text x="428.00" y="533.50" font-size="14.2" text-anchor="end" font-weight="normal" font-style="normal" fill="#151515" stroke="#151515" stroke-width="0.3" >80</text>
<line x1="434.80" y1="496.20" x2="437.80" y2="496.20" stroke="#747474" stroke-width="1.3" />
<text x="428.00" y="500.80" font-size="14.2" text-anchor="end" font-weight="normal" font-style="normal" fill="#151515" stroke="#151515" stroke-width="0.3" >90</text>
<line x1="437.80" y1="692.40" x2="437.80" y2="695.90" stroke="#747474" stroke-width="1.3" />
<text x="437.80" y="715.00" font-size="14" text-anchor="middle" font-weight="normal" font-style="normal" fill="#151515" stroke="#151515" stroke-width="0.3" >0.0</text>
<line x1="505.85" y1="692.40" x2="505.85" y2="695.90" stroke="#747474" stroke-width="1.3" />
<text x="505.85" y="715.00" font-size="14" text-anchor="middle" font-weight="normal" font-style="normal" fill="#151515" stroke="#151515" stroke-width="0.3" >0.5</text>
<line x1="573.90" y1="692.40" x2="573.90" y2="695.90" stroke="#747474" stroke-width="1.3" />
<text x="573.90" y="715.00" font-size="14" text-anchor="middle" font-weight="normal" font-style="normal" fill="#151515" stroke="#151515" stroke-width="0.3" >1.0</text>
<line x1="641.95" y1="692.40" x2="641.95" y2="695.90" stroke="#747474" stroke-width="1.3" />
<text x="641.95" y="715.00" font-size="14" text-anchor="middle" font-weight="normal" font-style="normal" fill="#151515" stroke="#151515" stroke-width="0.3" >1.5</text>
<line x1="710.00" y1="692.40" x2="710.00" y2="695.90" stroke="#747474" stroke-width="1.3" />
<text x="710.00" y="715.00" font-size="14" text-anchor="middle" font-weight="normal" font-style="normal" fill="#151515" stroke="#151515" stroke-width="0.3" >2.0</text>
<text x="573.50" y="743.60" font-size="18.5" text-anchor="middle" font-weight="normal" font-style="normal" fill="#151515" stroke="#151515" stroke-width="0.3" >Stiffness Gradient (mdyn / &#956;m)</text>
<text transform="translate(402.1,594.9) rotate(-90)" font-size="18.7" text-anchor="middle" fill="#151515">Tension Gradient (deg)</text>
<rect x="608.30" y="613.70" width="101.70" height="78.70" fill="#fff" stroke="#747474" stroke-width="1.3" />
<text x="643.00" y="604.50" font-size="17" text-anchor="start" font-weight="bold" font-style="normal" fill="#151515" >Control</text>
<path d="M512,650.2H592M552,636.5V663.6M512,646.2V654.2M592,646.2V654.2M548,636.5H556M548,663.6H556" stroke="#111" stroke-width="2.2" fill="none"/>
<path d="M557.5,558.5H638.5M597.7,530.5V587.5M557.5,554.5V562.5M638.5,554.5V562.5M593.7,530.5H601.7M593.7,587.5H601.7" stroke="#111" stroke-width="2.2" fill="none"/>
<path d="M486.5,610H558.8M522.5,582.8V637.7M486.5,606V614M558.8,606V614M518.5,582.8H526.5M518.5,637.7H526.5" stroke="#111" stroke-width="2.2" fill="none"/>
<path d="M452.8,620H536.4M494.8,583.5V655.4M452.8,616V624M536.4,616V624M490.8,583.5H498.8M490.8,655.4H498.8" stroke="#111" stroke-width="2.2" fill="none"/>
<path d="M557.5,639.5 L593.8,567.5" stroke="#e42a2a" stroke-width="3.5" fill="none"/>
<path d="M581.6,580 L593.8,567.5 L591.9,584.9" stroke="#e42a2a" stroke-width="3.3" fill="none" stroke-linejoin="miter" stroke-miterlimit="10"/>
<path d="M589.4,563.3 L527.7,603.2" stroke="#e42a2a" stroke-width="3.5" fill="none"/>
<path d="M517.5,614.5 L499.5,622.2" stroke="#e42a2a" stroke-width="3.5" fill="none"/>
<path d="M510.5,608.8 L499.5,622.2 L517.1,617.4" stroke="#e42a2a" stroke-width="3.3" fill="none" stroke-linejoin="miter" stroke-miterlimit="10"/>
<rect x="547.00" y="645.20" width="10.00" height="10.00" fill="#6cc040" stroke="#111" stroke-width="2.2" />
<circle cx="597.7" cy="559.2" r="5.2" fill="#f22424" stroke="#111" stroke-width="2.2"/>
<polygon points="522.7,603.9 528.7,609.9 522.7,615.9 516.7,609.9" fill="#b055b8" stroke="#111" stroke-width="2.2"/>
<polygon points="489.2,616.6 500.40000000000003,616.6 494.8,624.0" fill="#3a62c0" stroke="#111" stroke-width="2.2" stroke-linejoin="miter"/>
<rect x="623.55" y="622.15" width="10.50" height="10.50" fill="#6cc040" stroke="#111" stroke-width="2.2" />
<circle cx="628.8" cy="644.4" r="5.9" fill="#f22424" stroke="#111" stroke-width="2.2"/>
<polygon points="628.8,655.1999999999999 635.4,661.8 628.8,668.4 622.1999999999999,661.8" fill="#b055b8" stroke="#111" stroke-width="2.2"/>
<polygon points="623.0,675.6 634.6,675.6 628.8,684.6" fill="#3a62c0" stroke="#111" stroke-width="2.2" stroke-linejoin="miter"/>
<text x="652.20" y="631.80" font-size="14.2" text-anchor="start" font-weight="normal" font-style="normal" fill="#151515" stroke="#151515" stroke-width="0.3" >HH8+/9-</text>
<text x="652.20" y="649.10" font-size="14.2" text-anchor="start" font-weight="normal" font-style="normal" fill="#151515" stroke="#151515" stroke-width="0.3" >HH9</text>
<text x="652.20" y="666.40" font-size="14.2" text-anchor="start" font-weight="normal" font-style="normal" fill="#151515" stroke="#151515" stroke-width="0.3" >HH10</text>
<text x="652.20" y="683.70" font-size="14.2" text-anchor="start" font-weight="normal" font-style="normal" fill="#151515" stroke="#151515" stroke-width="0.3" >HH11</text>
<text x="114.60" y="35.00" font-size="19" text-anchor="middle" font-weight="normal" font-style="normal" fill="#151515" stroke="#151515" stroke-width="0.3" >HH9</text>
<text x="209.00" y="35.00" font-size="19" text-anchor="middle" font-weight="normal" font-style="normal" fill="#151515" stroke="#151515" stroke-width="0.3" >HH9</text>
<text x="311.10" y="35.00" font-size="19" text-anchor="middle" font-weight="normal" font-style="normal" fill="#151515" stroke="#151515" stroke-width="0.3" >HH10</text>
<text x="475.10" y="35.00" font-size="19" text-anchor="middle" font-weight="normal" font-style="normal" fill="#151515" stroke="#151515" stroke-width="0.3" >HH9</text>
<text x="571.20" y="35.00" font-size="19" text-anchor="middle" font-weight="normal" font-style="normal" fill="#151515" stroke="#151515" stroke-width="0.3" >HH9</text>
<text x="674.40" y="35.00" font-size="19" text-anchor="middle" font-weight="normal" font-style="normal" fill="#151515" stroke="#151515" stroke-width="0.3" >HH10</text>
<text x="0.80" y="111.70" font-size="18.8" text-anchor="start" font-weight="normal" font-style="normal" fill="#151515" stroke="#151515" stroke-width="0.3" >Control</text>
<text x="383.20" y="111.20" font-size="18.8" text-anchor="start" font-weight="normal" font-style="normal" fill="#151515" stroke="#151515" stroke-width="0.3" >Bleb</text>
<text x="62.80" y="193.50" font-size="15.5" text-anchor="start" font-weight="normal" font-style="normal" fill="#151515" stroke="#151515" stroke-width="0.3" >Right</text>
<text x="131.50" y="193.50" font-size="15.5" text-anchor="start" font-weight="normal" font-style="normal" fill="#151515" stroke="#151515" stroke-width="0.3" >Left</text>
<text x="424.00" y="193.80" font-size="15.5" text-anchor="start" font-weight="normal" font-style="normal" fill="#151515" stroke="#151515" stroke-width="0.3" >Right</text>
<text x="492.00" y="193.80" font-size="15.5" text-anchor="start" font-weight="normal" font-style="normal" fill="#151515" stroke="#151515" stroke-width="0.3" >Left</text>
</svg></body></html>
